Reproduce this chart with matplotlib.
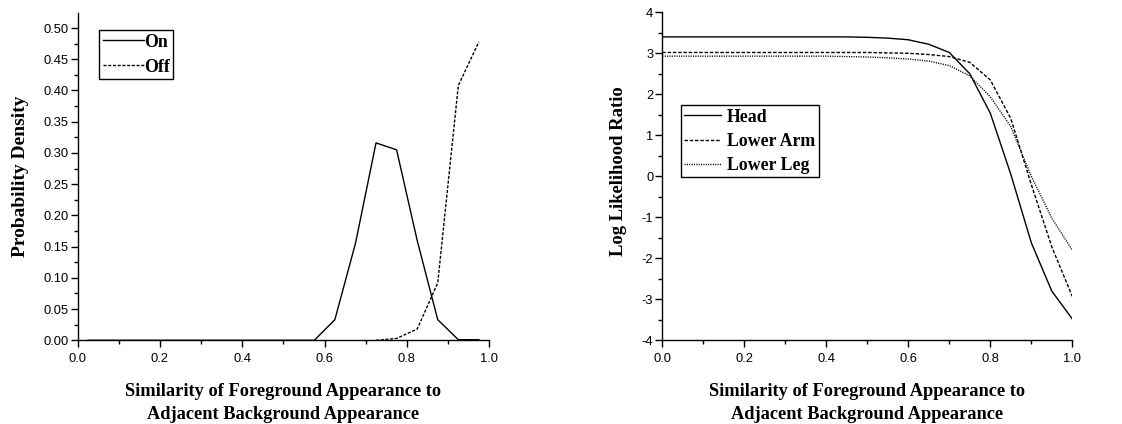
import numpy as np
import matplotlib
matplotlib.use("Agg")
from matplotlib import pyplot as plt
from matplotlib.ticker import MultipleLocator, FormatStrFormatter

plt.rcParams['axes.unicode_minus'] = False

# left panel: probability density of similarity (bin centres)
bin_x = [0.025, 0.075, 0.125, 0.175, 0.225, 0.275, 0.325, 0.375, 0.425, 0.475,
         0.525, 0.575, 0.625, 0.675, 0.725, 0.775, 0.825, 0.875, 0.925, 0.975]
on_density = [0, 0, 0, 0, 0, 0, 0, 0, 0, 0,
              0, 0, 0.033, 0.155, 0.316, 0.305, 0.160, 0.033, 0.001, 0.001]
off_x = [0.725, 0.775, 0.825, 0.875, 0.925, 0.975]
off_density = [0.0, 0.003, 0.018, 0.092, 0.408, 0.478]

# right panel: log likelihood ratio per limb
llr_x = [0.0, 0.05, 0.1, 0.15, 0.2, 0.25, 0.3, 0.35, 0.4, 0.45, 0.5,
         0.55, 0.6, 0.65, 0.7, 0.75, 0.8, 0.85, 0.9, 0.95, 1.0]
head = [3.40, 3.40, 3.40, 3.40, 3.40, 3.40, 3.40, 3.40, 3.40, 3.40, 3.39,
        3.37, 3.33, 3.22, 3.02, 2.50, 1.54, 0.05, -1.62, -2.80, -3.48]
lower_arm = [3.02, 3.02, 3.02, 3.02, 3.02, 3.02, 3.02, 3.02, 3.02, 3.02, 3.02,
             3.01, 3.00, 2.97, 2.92, 2.78, 2.35, 1.41, -0.20, -1.72, -2.93]
lower_leg = [2.93, 2.93, 2.93, 2.93, 2.93, 2.93, 2.93, 2.93, 2.93, 2.92, 2.91,
             2.89, 2.86, 2.81, 2.70, 2.45, 1.94, 1.21, 0.00, -1.02, -1.80]

serif = "Liberation Serif"
sans = "Liberation Sans"
lw = 1.0
xlabel_txt = "Similarity of Foreground Appearance to\nAdjacent Background Appearance"

fig = plt.figure(figsize=(11.22, 4.24), dpi=100)
ax1 = fig.add_axes([0.0692, 0.1974, 0.3668, 0.7726])
ax2 = fig.add_axes([0.5903, 0.1974, 0.3654, 0.7736])


def style_axes(ax):
    for s in ["top", "right"]:
        ax.spines[s].set_visible(False)
    for s in ["left", "bottom"]:
        ax.spines[s].set_linewidth(1.0)
    ax.tick_params(which="major", direction="out", length=5, width=1.0,
                   labelsize=9.3)
    ax.tick_params(axis="y", which="major", pad=1.5)
    ax.tick_params(axis="x", which="major", pad=4)
    ax.tick_params(which="minor", direction="out", length=3, width=1.0)
    for lab in ax.get_xticklabels() + ax.get_yticklabels():
        lab.set_fontfamily(sans)
    ax.set_xlabel(xlabel_txt, fontfamily=serif, fontweight="bold", fontsize=13.2,
                  labelpad=13, linespacing=1.5)


def add_legend(ax, anchor, hlen, hpad, bpad, lspace):
    leg = ax.legend(loc="upper left", bbox_to_anchor=anchor, borderaxespad=0,
                    handlelength=hlen, handletextpad=hpad, borderpad=bpad,
                    labelspacing=lspace, fancybox=False, edgecolor="k",
                    framealpha=1,
                    prop={"family": serif, "weight": "bold", "size": 12.8})
    leg.get_frame().set_linewidth(1.0)
    return leg


ax1.plot(bin_x, on_density, "k-", lw=lw, label="On")
ax1.plot(off_x, off_density, color="k", lw=lw, ls=(0, (2.2, 1.2)), label="Off")
ax1.set_xlim(0, 1.0)
ax1.set_ylim(0, 0.5245)
ax1.xaxis.set_major_locator(MultipleLocator(0.2))
ax1.xaxis.set_minor_locator(MultipleLocator(0.1))
ax1.yaxis.set_major_locator(MultipleLocator(0.05))
ax1.yaxis.set_minor_locator(MultipleLocator(0.025))
ax1.yaxis.set_major_formatter(FormatStrFormatter("%.2f"))
ax1.xaxis.set_major_formatter(FormatStrFormatter("%.1f"))
style_axes(ax1)
ax1.set_ylabel("Probability Density", fontfamily=serif, fontweight="bold",
               fontsize=14, labelpad=10)
add_legend(ax1, (0.0525, 0.947), 2.3, 0.0, 0.2, 0.45)

ax2.plot(llr_x, head, "k-", lw=lw, label="Head")
ax2.plot(llr_x, lower_arm, color="k", lw=lw, ls=(0, (2.5, 1.3)), label="Lower Arm")
ax2.plot(llr_x, lower_leg, color="k", lw=lw, ls=(0, (0.8, 0.9)), label="Lower Leg")
ax2.set_xlim(0, 1.0)
ax2.set_ylim(-4, 4)
ax2.xaxis.set_major_locator(MultipleLocator(0.2))
ax2.xaxis.set_minor_locator(MultipleLocator(0.1))
ax2.yaxis.set_major_locator(MultipleLocator(1))
ax2.yaxis.set_minor_locator(MultipleLocator(0.5))
ax2.xaxis.set_major_formatter(FormatStrFormatter("%.1f"))
style_axes(ax2)
ax2.set_ylabel("Log Likelihood Ratio", fontfamily=serif, fontweight="bold",
               fontsize=13.4)
ax2.yaxis.set_label_coords(-0.087, 0.515)
add_legend(ax2, (0.045, 0.717), 2.05, 0.35, 0.2, 0.4)

fig.savefig("out.png", dpi=100)
